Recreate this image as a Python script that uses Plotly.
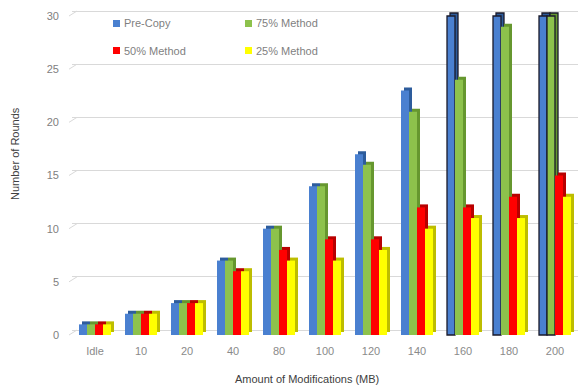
import plotly.graph_objects as go

# ---- data -------------------------------------------------------------
categories = ["Idle", "10", "20", "40", "80", "100", "120", "140", "160", "180", "200"]
pre_copy = [1, 2, 3, 7, 10, 14, 17, 23, 30, 30, 30]
method_75 = [1, 2, 3, 7, 10, 14, 16, 21, 24, 29, 30]
method_50 = [1, 2, 3, 6, 8, 9, 9, 12, 12, 13, 15]
method_25 = [1, 2, 3, 6, 7, 7, 8, 10, 11, 11, 13]
series_names = ["Pre-Copy", "75% Method", "50% Method", "25% Method"]
y_ticks = [0, 5, 10, 15, 20, 25, 30]
y_max = 30

# ---- styling ----------------------------------------------------------
front_colors = ["#4a80d0", "#8dc24c", "#ff0000", "#ffff00"]
side_colors = ["#2d5c9c", "#66972f", "#b80000", "#bdbd00"]
outline_color = "#1a1a2a"

W, H = 580, 387
L, R, T, B = 72, 2, 8, 50
plot_w = W - L - R
plot_h = H - T - B
ppu = 10.633            # pixels per value unit
front_lift = 2          # px between plot bottom and bar floor
back_lift = 7           # px between plot bottom and back-wall floor
cat_px = plot_w / len(categories)

bar_w = 8 / cat_px
depth_x = 3 / cat_px
depth_y = 3 / ppu

series = [pre_copy, method_75, method_50, method_25]

fig = go.Figure()
for i, (name, vals) in enumerate(zip(series_names, series)):
    off = (-16 + 8 * i) / cat_px
    lw = [1.3 if v >= y_max else 0 for v in vals]
    # extruded side/top face
    fig.add_trace(go.Bar(
        x=categories, y=vals, base=depth_y, offset=off + depth_x, width=bar_w,
        marker=dict(color=side_colors[i], line=dict(color=outline_color, width=lw)),
        yaxis="y2", showlegend=False, hoverinfo="skip",
    ))
    # front face
    fig.add_trace(go.Bar(
        x=categories, y=vals, offset=off, width=bar_w, name=name,
        marker=dict(color=front_colors[i], line=dict(color=outline_color, width=lw)),
        yaxis="y2", showlegend=False,
    ))

# slanted stubs joining the front tick labels to the back-wall gridlines
shift = (back_lift - front_lift) / ppu
for v in y_ticks:
    fig.add_shape(type="line", xref="paper", yref="y",
                  x0=-3 / plot_w, x1=5 / plot_w, y0=v - shift, y1=v,
                  line=dict(color="#d9d9d9", width=1))


def px_x(px):
    return (px - L) / plot_w


def px_y(py):
    return (H - B - py) / plot_h


# legend: two columns, two rows
legend_pos = [(113, 23.5), (245, 23.5), (113, 50.5), (245, 50.5)]
for (lx, ly), name, col in zip(legend_pos, series_names, front_colors):
    fig.add_shape(type="rect", xref="paper", yref="paper",
                  x0=px_x(lx), x1=px_x(lx + 7), y0=px_y(ly - 3.5), y1=px_y(ly + 3.5),
                  fillcolor=col, line=dict(width=0))
    fig.add_annotation(text=name, xref="paper", yref="paper",
                       x=px_x(lx + 9), y=px_y(ly), xanchor="left", yanchor="middle",
                       showarrow=False,
                       font=dict(family="Liberation Sans", size=11, color="#7f7f7f"))

# axis titles
fig.add_annotation(text="Amount of Modifications (MB)", xref="paper", yref="paper",
                   x=px_x(307), y=px_y(379), xanchor="center", yanchor="middle",
                   showarrow=False,
                   font=dict(family="Liberation Sans", size=11, color="#404040"))
fig.add_annotation(text="Number of Rounds", xref="paper", yref="paper",
                   x=px_x(15), y=px_y(154), xanchor="center", yanchor="middle",
                   textangle=-90, showarrow=False,
                   font=dict(family="Liberation Sans", size=11, color="#404040"))

fig.update_layout(
    width=W, height=H,
    margin=dict(l=L, r=R, t=T, b=B, pad=0),
    paper_bgcolor="white", plot_bgcolor="white",
    barmode="overlay",
    showlegend=False,
    font=dict(family="Liberation Sans", size=11, color="#868686"),
    xaxis=dict(type="category", range=[-0.5, len(categories) - 0.5],
               showgrid=False, showline=False, zeroline=False, ticks="",
               ticklabelstandoff=6,
               tickfont=dict(family="Liberation Sans", size=11, color="#8a8a8a")),
    # back-wall gridlines
    yaxis=dict(range=[-back_lift / ppu, (plot_h - back_lift) / ppu],
               tickvals=y_ticks, showgrid=True, gridcolor="#d9d9d9", gridwidth=1,
               zeroline=False, showticklabels=False, showline=False, ticks=""),
    # value scale for the bar fronts and the tick labels
    yaxis2=dict(range=[-front_lift / ppu, (plot_h - front_lift) / ppu],
                overlaying="y", side="left", tickvals=y_ticks,
                showgrid=False, zeroline=False, showline=False, ticks="",
                ticklabelstandoff=12,
                tickfont=dict(family="Liberation Sans", size=11, color="#808080")),
)

fig.write_html("out.html")
